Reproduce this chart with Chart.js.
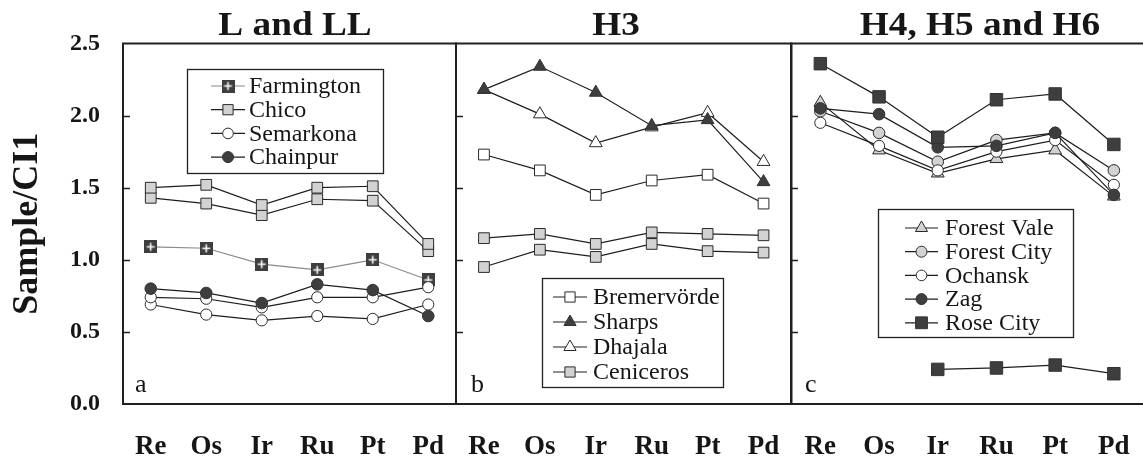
<!DOCTYPE html>
<html><head><meta charset="utf-8">
<script src="https://cdn.jsdelivr.net/npm/chart.js@4.4.1/dist/chart.umd.min.js"></script>
<style>
html,body{margin:0;padding:0;background:#fff;overflow:hidden;width:1143px;height:462px;position:relative;}
canvas{position:absolute;top:0;}
</style></head><body>
<canvas id="ca" width="470" height="462" style="left:0px"></canvas>
<canvas id="cb" width="356" height="462" style="left:446px"></canvas>
<canvas id="cc" width="372" height="462" style="left:781px"></canvas>
<script>
// ---------- data ----------
const categories = ['Re', 'Os', 'Ir', 'Ru', 'Pt', 'Pd'];
const yTickValues = [0.0, 0.5, 1.0, 1.5, 2.0, 2.5];
const panelTitles = ['L and LL', 'H3', 'H4, H5 and H6'];
const panelLetters = ['a', 'b', 'c'];
const yAxisTitle = 'Sample/CI1';

// Panel a: L and LL
const farmington = [1.09, 1.08, 0.97, 0.93, 1.00, 0.86];
const chicoUpper = [1.50, 1.52, 1.38, 1.50, 1.51, 1.11];
const chicoLower = [1.43, 1.39, 1.31, 1.42, 1.41, 1.06];
const semarkonaUpper = [0.74, 0.73, 0.67, 0.74, 0.74, 0.81];
const semarkonaLower = [0.69, 0.62, 0.58, 0.61, 0.59, 0.69];
const chainpur = [0.80, 0.77, 0.70, 0.83, 0.79, 0.61];

// Panel b: H3
const bremervorde = [1.73, 1.62, 1.45, 1.55, 1.59, 1.39];
const sharps = [2.18, 2.34, 2.16, 1.93, 1.97, 1.54];
const dhajala = [2.18, 2.01, 1.81, 1.92, 2.02, 1.68];
const cenicerosUpper = [1.15, 1.18, 1.11, 1.19, 1.18, 1.17];
const cenicerosLower = [0.95, 1.07, 1.02, 1.11, 1.06, 1.05];

// Panel c: H4, H5 and H6
const forestVale = [2.09, 1.76, 1.60, 1.70, 1.76, 1.44];
const forestCity = [2.03, 1.88, 1.68, 1.83, 1.88, 1.62];
const ochansk = [1.95, 1.79, 1.62, 1.75, 1.83, 1.52];
const zag = [2.05, 2.01, 1.78, 1.79, 1.88, 1.45];
const roseCityUpper = [2.36, 2.13, 1.85, 2.11, 2.15, 1.80];
const roseCityLower = [null, null, 0.24, 0.25, 0.27, 0.21];

// ---------- styling ----------
const SERIF = '"Liberation Serif", "Times New Roman", serif';
const INK = '#161616';
const DARK = '#3e3e3e';
const GRAY = '#d2d2d2';
const EDGE = '#2a2a2a';

// Farmington marker: dark square with white plus
const plusSquare = (() => {
  const c = document.createElement('canvas');
  c.width = 13; c.height = 13;
  const g = c.getContext('2d');
  g.fillStyle = DARK; g.fillRect(0, 0, 13, 13);
  g.strokeStyle = '#fff'; g.lineWidth = 1.6;
  g.beginPath(); g.moveTo(6.5, 2.5); g.lineTo(6.5, 10.5); g.moveTo(2.5, 6.5); g.lineTo(10.5, 6.5); g.stroke();
  return c;
})();

function series(label, data, kind, lineColor) {
  const k = {
    sqGray: {ps: 'rect', r: 7.6, fill: GRAY},
    sqOpen: {ps: 'rect', r: 7.6, fill: '#fff'},
    sqDark: {ps: 'rect', r: 8.8, fill: DARK},
    sqPlus: {ps: plusSquare, r: 7, fill: DARK},
    ciOpen: {ps: 'circle', r: 5.6, fill: '#fff'},
    ciDark: {ps: 'circle', r: 5.8, fill: DARK},
    ciGray: {ps: 'circle', r: 5.8, fill: GRAY},
    trOpen: {ps: 'triangle', r: 7.4, fill: '#fff'},
    trDark: {ps: 'triangle', r: 7.4, fill: DARK},
    trGray: {ps: 'triangle', r: 7.4, fill: GRAY}
  }[kind];
  return {
    label, data,
    borderColor: lineColor || '#1e1e1e', borderWidth: 1.2, tension: 0,
    pointStyle: k.ps, pointRadius: k.r, pointHoverRadius: k.r,
    pointBackgroundColor: k.fill,
    pointBorderColor: kind === 'sqDark' || kind === 'ciDark' || kind === 'trDark' ? '#333' : EDGE,
    pointBorderWidth: 1,
    fill: false, spanGaps: false
  };
}

const deco = {
  id: 'deco',
  beforeDatasetsDraw(chart, args, o) {
    const {ctx, chartArea: a, scales: {y}} = chart;
    ctx.save();
    ctx.strokeStyle = '#202020';
    ctx.lineWidth = 2;
    ctx.beginPath();
    if (o.closed) {
      ctx.rect(a.left, a.top, a.right - a.left, a.bottom - a.top);
    } else {
      ctx.moveTo(a.right + 20, a.top); ctx.lineTo(a.left, a.top);
      ctx.lineTo(a.left, a.bottom); ctx.lineTo(a.right + 20, a.bottom);
    }
    ctx.stroke();
    ctx.lineWidth = 1.5;
    ctx.beginPath();
    yTickValues.slice(1, -1).forEach(v => {
      const py = Math.round(y.getPixelForValue(v)) + 0.5;
      ctx.moveTo(a.left, py); ctx.lineTo(a.left + 7, py);
    });
    ctx.stroke();
    ctx.restore();
  },
  afterDatasetsDraw(chart, args, o) {
    const {ctx} = chart;
    const ox = o.offsetX;
    ctx.save();
    // title
    ctx.fillStyle = INK;
    ctx.font = 'bold 33px ' + SERIF;
    ctx.textAlign = 'center';
    ctx.textBaseline = 'alphabetic';
    ctx.save();
    ctx.translate(o.titleX - ox, 35);
    ctx.scale(1.13, 1);
    ctx.fillText(o.title, 0, 0);
    ctx.restore();
    // panel letter
    ctx.font = '26px ' + SERIF;
    ctx.textAlign = 'left';
    ctx.fillText(o.letter, o.letterX - ox, 392);
    // legend
    const L = o.legend;
    ctx.strokeStyle = '#202020';
    ctx.lineWidth = 1.3;
    ctx.strokeRect(L.x - ox + 0.5, L.y + 0.5, L.w, L.h);
    ctx.font = '24px ' + SERIF;
    ctx.textBaseline = 'middle';
    L.labels.forEach((lab, i) => {
      const ds = chart.data.datasets.find(d => d.label === lab);
      const ry = L.row0 + i * L.rowH;
      ctx.strokeStyle = ds.borderColor;
      ctx.lineWidth = ds.borderWidth;
      ctx.beginPath();
      ctx.moveTo(L.lx0 - ox, ry); ctx.lineTo(L.lx1 - ox, ry);
      ctx.stroke();
      ctx.fillStyle = ds.pointBackgroundColor;
      ctx.strokeStyle = ds.pointBorderColor;
      ctx.lineWidth = ds.pointBorderWidth;
      Chart.helpers.drawPoint(ctx, {pointStyle: ds.pointStyle, radius: ds.pointRadius * 0.95, rotation: 0, borderWidth: ds.pointBorderWidth}, (L.lx0 + L.lx1) / 2 - ox, ry);
      ctx.fillStyle = INK;
      ctx.fillText(lab, L.tx - ox, ry + 1);
    });
    ctx.restore();
  }
};

function makeChart(id, datasets, opts) {
  const first = opts.first;
  return new Chart(document.getElementById(id), {
    type: 'line',
    data: {labels: categories, datasets},
    options: {
      responsive: false,
      animation: false,
      layout: {padding: {top: 43.5, bottom: 0, left: opts.padL, right: opts.padR}},
      plugins: {
        legend: {display: false},
        title: {display: false},
        tooltip: {enabled: false},
        deco: opts.deco
      },
      scales: {
        x: {
          type: 'category', offset: true,
          grid: {display: false, drawTicks: false},
          border: {display: false},
          ticks: {font: {family: SERIF, size: 27, weight: 'bold'}, color: INK, padding: 27, maxRotation: 0, autoSkip: false},
          afterFit: s => { s.height = 58; s.paddingLeft = 0; s.paddingRight = 0; }
        },
        y: {
          min: 0, max: 2.5,
          grid: {display: false, drawTicks: false},
          border: {display: false},
          ticks: {
            display: first, stepSize: 0.5,
            callback: v => Number(v).toFixed(1),
            font: {family: SERIF, size: 24, weight: 'bold'}, color: INK, padding: 23
          },
          title: {
            display: first, text: yAxisTitle, color: INK,
            font: {family: SERIF, size: 36, weight: 'bold'}, padding: {top: 6, bottom: 0}
          },
          afterFit: s => { s.width = first ? 123 : 0; s.paddingTop = 0; s.paddingBottom = 0; }
        }
      }
    },
    plugins: [deco]
  });
}

makeChart('ca', [
  series('Chainpur', chainpur, 'ciDark'),
  series('Semarkona', semarkonaUpper, 'ciOpen'),
  series('Semarkona', semarkonaLower, 'ciOpen'),
  series('Farmington', farmington, 'sqPlus', '#8a8a8a'),
  series('Chico', chicoUpper, 'sqGray'),
  series('Chico', chicoLower, 'sqGray')
], {
  first: true, padL: 0, padR: 14,
  deco: {
    offsetX: 0, closed: true, title: panelTitles[0], titleX: 295, letter: panelLetters[0], letterX: 135,
    legend: {x: 187, y: 69, w: 196, h: 104, row0: 86, rowH: 23.7, lx0: 211, lx1: 245, tx: 249,
      labels: ['Farmington', 'Chico', 'Semarkona', 'Chainpur']}
  }
});

makeChart('cb', [
  series('Sharps', sharps, 'trDark'),
  series('Dhajala', dhajala, 'trOpen'),
  series('Bremervörde', bremervorde, 'sqOpen'),
  series('Ceniceros', cenicerosUpper, 'sqGray'),
  series('Ceniceros', cenicerosLower, 'sqGray')
], {
  first: false, padL: 10, padR: 10.5,
  deco: {
    offsetX: 446, closed: true, title: panelTitles[1], titleX: 616, letter: panelLetters[1], letterX: 471,
    legend: {x: 542, y: 278, w: 181, h: 109, row0: 297, rowH: 25, lx0: 553, lx1: 587, tx: 593,
      labels: ['Bremervörde', 'Sharps', 'Dhajala', 'Ceniceros']}
  }
});

makeChart('cc', [
  series('Rose City', roseCityUpper, 'sqDark'),
  series('Rose City', roseCityLower, 'sqDark'),
  series('Zag', zag, 'ciDark'),
  series('Ochansk', ochansk, 'ciOpen'),
  series('Forest City', forestCity, 'ciGray'),
  series('Forest Vale', forestVale, 'trGray')
], {
  first: false, padL: 10, padR: 9,
  deco: {
    offsetX: 781, closed: false, title: panelTitles[2], titleX: 980, letter: panelLetters[2], letterX: 805,
    legend: {x: 878, y: 209, w: 195, h: 128, row0: 228, rowH: 23.7, lx0: 905, lx1: 938, tx: 945,
      labels: ['Forest Vale', 'Forest City', 'Ochansk', 'Zag', 'Rose City']}
  }
});
</script>
</body></html>
